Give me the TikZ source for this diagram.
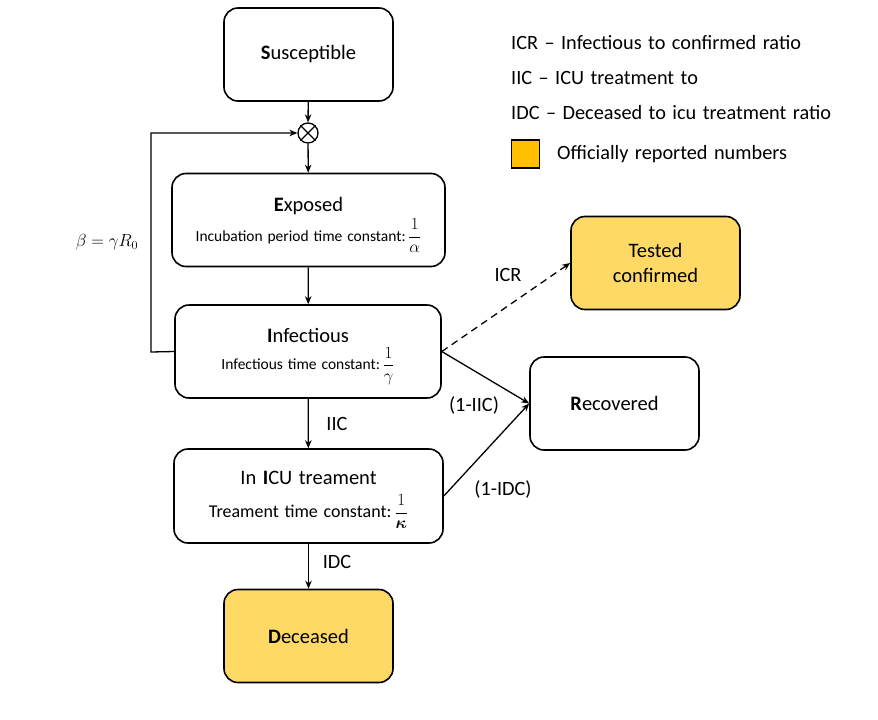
\documentclass[tikz,border=0pt]{standalone}
\usepackage{fix-cm}
\usepackage{amsmath}
\usepackage{fontspec}
\setmainfont{Carlito}[WordSpace=1.4]
\usetikzlibrary{arrows.meta}
\definecolor{boxyellow}{HTML}{FFD966}
\definecolor{legyellow}{HTML}{FFC000}
\newcommand{\myfrac}[1]{\,{\fontsize{17}{20}\selectfont$\dfrac{1}{#1}$}}
\begin{document}
\begin{tikzpicture}[x=1pt,y=-1pt,
  stage/.style={draw=black,line width=1.6pt,rounded corners=14pt,align=center,
    minimum width=#1,minimum height=93pt,inner sep=0pt,font=\fontsize{20.5}{25}\selectfont},
  stage/.default=169pt,
  inner/.style={align=center,inner sep=0pt,font=\fontsize{20.5}{25}\selectfont},
  flow/.style={line width=1.3pt,-{Stealth[length=8pt,width=6.5pt]}},
  lbl/.style={font=\fontsize{20.3}{24}\selectfont,inner sep=0pt}]
\useasboundingbox (0,0) rectangle (878,720);
% stages
\node[stage] (S) at (308.5,54.5) {\textbf{S}usceptible};
\node[circle,draw,line width=1.3pt,minimum size=20pt,inner sep=0pt] (M) at (308,133) {};
\draw[line width=1.1pt] (M.45) -- (M.225) (M.135) -- (M.315);
\node[stage=273pt] (E) at (308.5,220) {};
\node[inner] (Et) at ([yshift=-5pt]E.center) {\textbf{E}xposed\\[3pt]{\fontsize{15.5}{18}\selectfont Incubation period time constant:\myfrac{\alpha}}};
\node[stage=266pt] (I) at (308,351.5) {};
\node[inner] (It) at ([yshift=-5pt]I.center) {\textbf{I}nfectious\\[2pt]{\fontsize{15.5}{18}\selectfont Infectious time\ constant:\myfrac{\gamma}}};
\node[stage=269pt,minimum height=94pt] (C) at (308.5,496) {};
\node[inner] (Ct) at ([yshift=-4pt]C.center) {In \textbf{I}CU treament\\[8pt]{\fontsize{18}{21}\selectfont Treament time constant:\myfrac{\boldsymbol{\kappa}}}};
\node[stage,fill=boxyellow] (D) at (308.5,636) {\textbf{D}eceased};
\node[stage,fill=boxyellow] (T) at (655.5,263) {Tested\\confirmed};
\node[stage] (R) at (614.5,403.5) {\textbf{R}ecovered};
% flows
\draw[flow] (S) -- (M);
\draw[flow] (M) -- (E);
\draw[flow] (E) -- (I);
\draw[flow] (I) -- (C);
\draw[flow] (C) -- (D);
\coordinate (Lb) at (151,352);
\coordinate (Lt) at (151,133);
\draw[flow] (I.west) -- (Lb) -- (Lt) -- (M.west);
\draw[flow,dashed,dash pattern=on 7pt off 5pt] (I.east) -- (T.west);
\draw[flow] (I.east) -- (R.west);
\draw[flow] (C.east) -- (R.west);
% labels
\node[lbl,font=\fontsize{17.5}{20}\selectfont] (beta) at (107,242) {$\beta = \gamma R_0$};
\node[lbl] (icr) at (508,275) {ICR};
\node[lbl] (iic1) at (474,405) {(1-IIC)};
\node[lbl] (idc1) at (503,489) {(1-IDC)};
\node[lbl] (iic) at (337,424) {IIC};
\node[lbl] (idc) at (337,562) {IDC};
% legend
\node[lbl,anchor=west] (l1) at (511,43) {ICR – Infectious to confirmed ratio};
\node[lbl,anchor=west] (l2) at (511,78) {IIC – ICU treatment to};
\node[lbl,anchor=west] (l3) at (511,113) {IDC – Deceased\ to icu treatment ratio};
\node[draw,line width=1.5pt,fill=legyellow,minimum size=28pt,inner sep=0pt] (sq) at (525.5,154) {};
\node[lbl,anchor=west] (l4) at (557,154) {Officially reported\ numbers};
\end{tikzpicture}
\end{document}
